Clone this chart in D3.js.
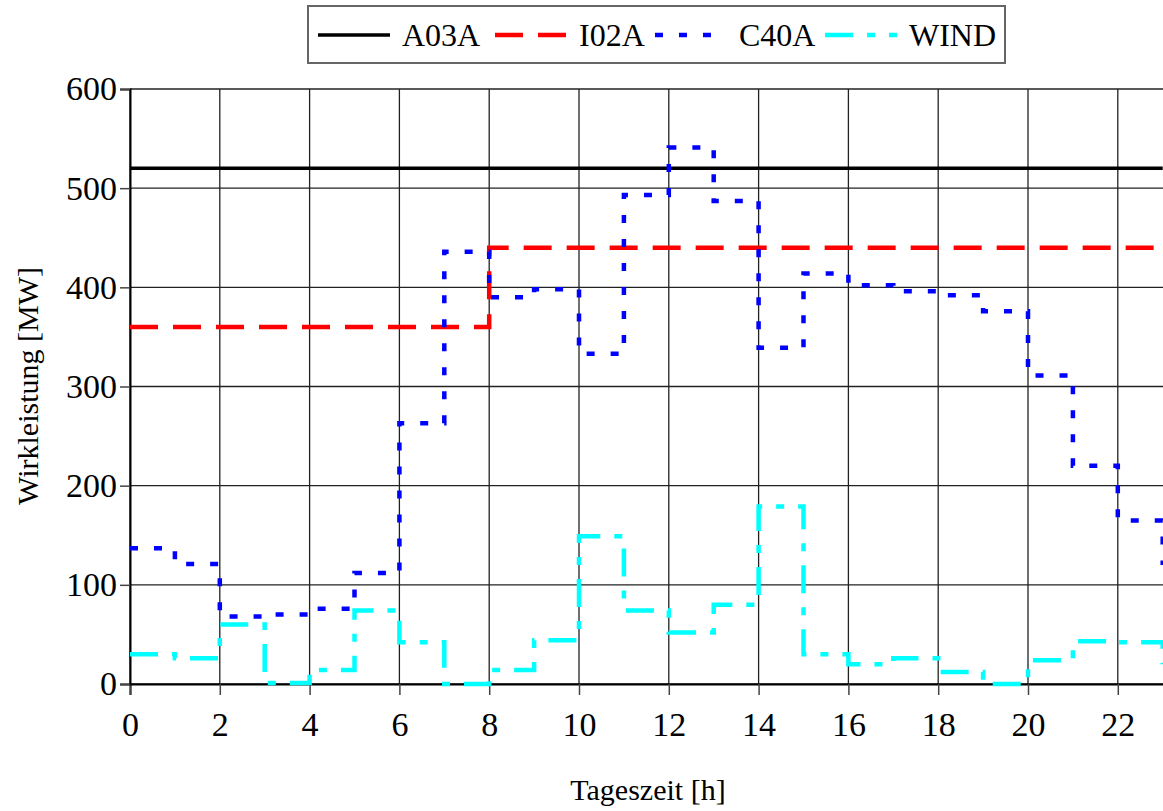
<!DOCTYPE html>
<html>
<head>
<meta charset="utf-8">
<script src="https://cdn.jsdelivr.net/npm/d3@7"></script>
<style>
  body { margin: 0; background: #fff; }
  svg { display: block; font-family: "Liberation Serif", "Times New Roman", serif; }
</style>
</head>
<body>
<div id="chart"></div>
<script>
// Daten
const stunden = [0, 1, 2, 3, 4, 5, 6, 7, 8, 9, 10, 11, 12, 13, 14, 15, 16, 17, 18, 19, 20, 21, 22, 23]
const a03a = [520, 520, 520, 520, 520, 520, 520, 520, 520, 520, 520, 520, 520, 520, 520, 520, 520, 520, 520, 520, 520, 520, 520, 520]
const i02a = [360, 360, 360, 360, 360, 360, 360, 360, 440, 440, 440, 440, 440, 440, 440, 440, 440, 440, 440, 440, 440, 440, 440, 440]
const c40a = [137, 121, 68, 70, 76, 112, 263, 436, 390, 398, 333, 493, 541, 487, 339, 414, 402, 396, 392, 376, 311, 220, 165, 120]
const wind = [30, 26, 60, 1, 14, 74, 42, 0, 14, 44, 149, 74, 52, 80, 179, 30, 20, 26, 12, 0, 24, 43, 42, 20]

const xTicks = [0, 2, 4, 6, 8, 10, 12, 14, 16, 18, 20, 22]
const yTicks = [0, 100, 200, 300, 400, 500, 600]

const serien = [
  { name: "A03A", werte: a03a, color: "#000000", width: 3.5, dash: null },
  { name: "I02A", werte: i02a, color: "#ff0000", width: 4.5, dash: "28,15" },
  { name: "C40A", werte: c40a, color: "#0000ff", width: 4.5, dash: "8,16" },
  { name: "WIND", werte: wind, color: "#00ffff", width: 4.5, dash: "28,14,8,14" }
]

const ancho = 1163
const alto = 811

const svg = d3.select("#chart")
  .append("svg")
  .attr("width", ancho)
  .attr("height", alto)

const x = d3.scaleLinear().domain([0, 24]).range([130, 130 + 24 * 44.9])
const y = d3.scaleLinear().domain([0, 600]).range([684, 89])

// Gitter
svg.append("g")
  .selectAll("line")
  .data(xTicks.concat([24]))
  .join("line")
  .attr("x1", (d) => x(d))
  .attr("x2", (d) => x(d))
  .attr("y1", y(600))
  .attr("y2", y(0))
  .attr("stroke", "#222")
  .attr("stroke-width", 1.3)

svg.append("g")
  .selectAll("line")
  .data(yTicks)
  .join("line")
  .attr("x1", x(0))
  .attr("x2", ancho)
  .attr("y1", (d) => y(d))
  .attr("y2", (d) => y(d))
  .attr("stroke", "#222")
  .attr("stroke-width", 1.3)

// Achsen
const xAxis = svg.append("g")
  .attr("transform", `translate(0, ${y(0)})`)
  .call(d3.axisBottom(x).tickValues(xTicks).tickSize(11))
xAxis.select(".domain").attr("stroke", "#000").attr("stroke-width", 2)
xAxis.selectAll(".tick line").attr("stroke", "#444").attr("stroke-width", 1.5)
xAxis.selectAll("text")
  .attr("y", 52)
  .attr("dy", 0)
  .attr("font-size", 34)
  .attr("fill", "#000")
  .attr("font-family", "Liberation Serif")

const yAxis = svg.append("g")
  .attr("transform", `translate(${x(0)}, 0)`)
  .call(d3.axisLeft(y).tickValues(yTicks).tickSize(10).tickPadding(3))
yAxis.select(".domain").attr("stroke", "#000").attr("stroke-width", 2)
yAxis.selectAll(".tick line").attr("stroke", "#444").attr("stroke-width", 1.5)
yAxis.selectAll("text")
  .attr("font-size", 34)
  .attr("fill", "#000")
  .attr("font-family", "Liberation Serif")

// Achsentitel
svg.append("text")
  .attr("x", 648)
  .attr("y", 800)
  .attr("text-anchor", "middle")
  .attr("font-size", 30)
  .text("Tageszeit [h]")

svg.append("text")
  .attr("transform", "translate(38, 386) rotate(-90)")
  .attr("text-anchor", "middle")
  .attr("font-size", 30)
  .text("Wirkleistung [MW]")

// Linien
const linie = d3.line()
  .x((d) => x(d[0]))
  .y((d) => y(d[1]))
  .curve(d3.curveStepAfter)

svg.append("g")
  .selectAll("path")
  .data(serien)
  .join("path")
  .attr("d", (s) => linie(stunden.map((h, i) => [h, s.werte[i]])))
  .attr("fill", "none")
  .attr("stroke", (s) => s.color)
  .attr("stroke-width", (s) => s.width)
  .attr("stroke-dasharray", (s) => s.dash)

// Legende
const legend = svg.append("g")
legend.append("rect")
  .attr("x", 308)
  .attr("y", 6)
  .attr("width", 697)
  .attr("height", 57)
  .attr("fill", "#fff")
  .attr("stroke", "#666")
  .attr("stroke-width", 2)

const legX = [318, 495, 655, 825]
const item = legend.selectAll("g.item")
  .data(serien)
  .join("g")
  .classed("item", true)
  .attr("transform", (d, i) => `translate(${legX[i]}, 35)`)

item.append("line")
  .attr("x1", 0)
  .attr("x2", 72)
  .attr("stroke", (s) => s.color)
  .attr("stroke-width", (s) => s.width)
  .attr("stroke-dasharray", (s) => s.dash)

item.append("text")
  .attr("x", 84)
  .attr("y", 11)
  .attr("font-size", 32)
  .text((s) => s.name)
</script>
</body>
</html>
